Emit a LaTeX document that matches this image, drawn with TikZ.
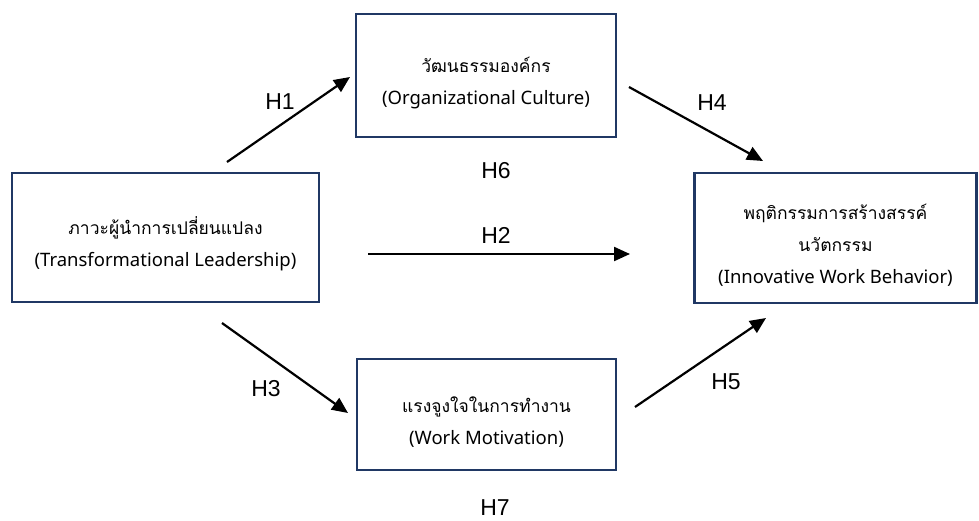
\documentclass[tikz,border=0pt]{standalone}
\usepackage{fontspec}
\setmainfont{Liberation Sans}
\newfontfamily\thaifont[Script=Thai]{Loma}
\newfontfamily\enfont{Noto Sans}
\usetikzlibrary{arrows.meta}
\definecolor{boxNavy}{RGB}{32,56,100}
\newcommand{\engl}[1]{{\enfont\fontsize{18.5}{32}\selectfont #1}}
\newcommand{\topgap}{\rule{0pt}{30pt}}

\begin{document}
\begin{tikzpicture}[
		x=1pt, y=-1pt,
		important line/.style={line width=2.2pt, -{Triangle[length=16pt,width=14pt]}},
		every node/.style={color=black},
		]
		\tikzset{
			varBox/.style={draw=boxNavy, line width=2.4pt, fill=none, inner sep=0pt, align=center,
				font=\thaifont\fontsize{17.5}{32}\selectfont},
			hypLabel/.style={font=\fontsize{23}{26}\selectfont},
		}
		\useasboundingbox (0,0) rectangle (979,520);
		
		% the four variables
		\node[varBox, minimum width=307pt, minimum height=129pt] (lead) at (165.5,237.5)
		{\topgap ภาวะผู้นำการเปลี่ยนแปลง\\\engl{(Transformational Leadership)}};
		\node[varBox, minimum width=260pt, minimum height=123pt] (culture) at (486,75.5)
		{\topgap วัฒนธรรมองค์กร\\\engl{(Organizational Culture)}};
		\node[varBox, minimum width=259pt, minimum height=111pt] (motiv) at (486.5,414.5)
		{\topgap แรงจูงใจในการทำงาน\\\engl{(Work Motivation)}};
		\node[varBox, minimum width=282pt, minimum height=130pt] (innov) at (835.5,238)
		{\topgap พฤติกรรมการสร้างสรรค์\\นวัตกรรม\\\engl{(Innovative Work Behavior)}};
		
		% arrow ends
		\coordinate (hOneS) at (227,162);   \coordinate (hOneE) at (350,77);
		\coordinate (hTwoS) at (368,254);   \coordinate (hTwoE) at (630,254);
		\coordinate (hThreeS) at (222,323); \coordinate (hThreeE) at (348,413);
		\coordinate (hFourS) at (629,87);   \coordinate (hFourE) at (763,161);
		\coordinate (hFiveS) at (635,407);  \coordinate (hFiveE) at (766,318);
		
		\foreach \s/\e in {hOneS/hOneE, hTwoS/hTwoE, hThreeS/hThreeE, hFourS/hFourE, hFiveS/hFiveE}{
			\draw[important line] (\s) -- (\e);
		}
		
		\foreach \n/\px/\py in {1/280/102, 2/496/235, 3/266/389, 4/712/103, 5/726/382, 6/496/171, 7/495/508}{
			\node[hypLabel] (h\n) at (\px,\py) {H\n};
		}
	\end{tikzpicture}
\end{document}
